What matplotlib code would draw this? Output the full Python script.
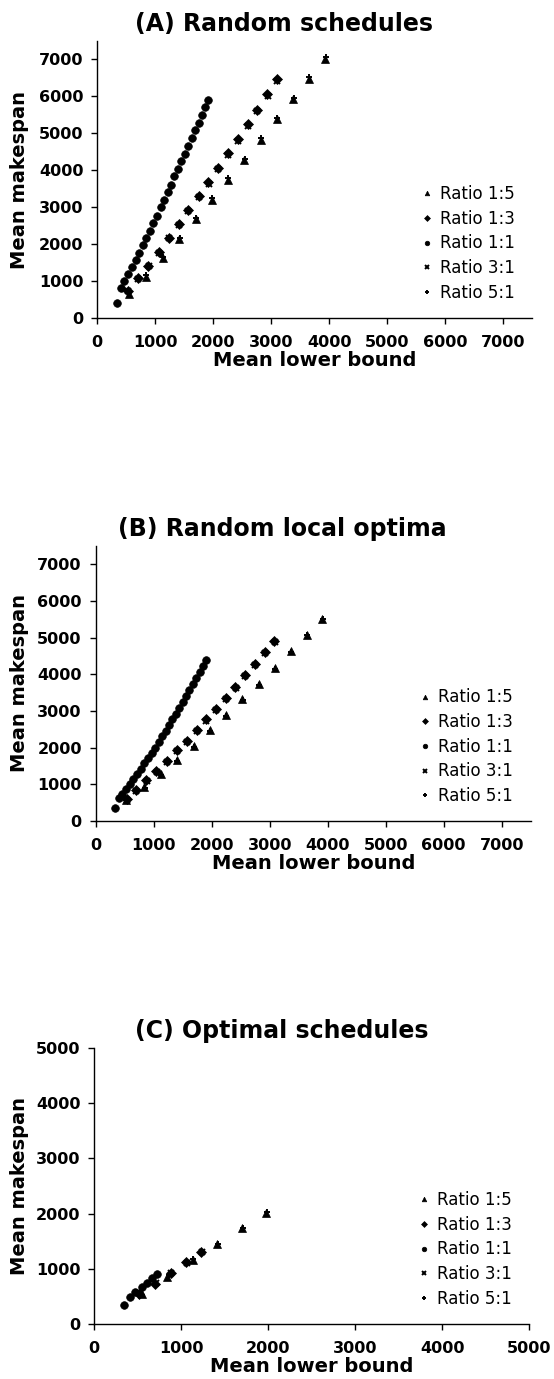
import matplotlib
matplotlib.use("Agg")
import matplotlib.pyplot as plt

# (A) Random schedules
a_lb_15 = [546, 840, 1133, 1415, 1696, 1978, 2260, 2536, 2818, 3100, 3381, 3652, 3933]
a_ms_15 = [658, 1128, 1624, 2138, 2679, 3202, 3743, 4276, 4826, 5385, 5917, 6477, 7018]
a_lb_13 = [523, 696, 880, 1058, 1236, 1403, 1570, 1748, 1915, 2082, 2260, 2427, 2593, 2754, 2933, 3100]
a_ms_13 = [749, 1082, 1425, 1786, 2174, 2544, 2923, 3301, 3671, 4059, 4456, 4844, 5250, 5629, 6071, 6459]
a_lb_11 = [333, 403, 466, 535, 598, 661, 725, 782, 845, 909, 966, 1029, 1093, 1150,
           1213, 1271, 1328, 1386, 1449, 1512, 1570, 1627, 1685, 1748, 1806, 1863, 1915]
a_ms_11 = [424, 821, 1010, 1200, 1389, 1579, 1777, 1975, 2174, 2372, 2580, 2778, 2995, 3193,
           3401, 3608, 3834, 4023, 4240, 4447, 4645, 4871, 5079, 5277, 5493, 5701, 5899]
a_lb_31 = [526, 700, 884, 1060, 1240, 1406, 1572, 1750, 1918, 2085, 2262, 2430, 2596, 2757, 2936, 3103]
a_ms_31 = [730, 1070, 1410, 1770, 2160, 2520, 2900, 3280, 3640, 4030, 4420, 4800, 5200, 5590, 6020, 6400]
a_lb_51 = [550, 845, 1138, 1420, 1700, 1982, 2262, 2540, 2822, 3103, 3384, 3655, 3936]
a_ms_51 = [700, 1160, 1660, 2170, 2710, 3240, 3780, 4310, 4860, 5420, 5950, 6510, 7050]

# (B) Random local optima
b_lb_15 = [523, 839, 1121, 1402, 1690, 1971, 2247, 2529, 2810, 3092, 3362, 3638, 3908]
b_ms_15 = [573, 918, 1282, 1664, 2055, 2473, 2900, 3318, 3745, 4182, 4636, 5082, 5518]
b_lb_13 = [534, 695, 874, 1046, 1224, 1397, 1569, 1741, 1902, 2075, 2241, 2408, 2575, 2741, 2914, 3080]
b_ms_13 = [591, 836, 1118, 1373, 1636, 1927, 2191, 2482, 2773, 3064, 3364, 3664, 3973, 4282, 4600, 4918]
b_lb_11 = [333, 397, 460, 523, 586, 649, 713, 776, 839, 902, 966, 1023, 1086, 1149,
           1207, 1264, 1322, 1385, 1443, 1500, 1557, 1615, 1678, 1736, 1793, 1851, 1908]
b_ms_11 = [364, 618, 745, 873, 1000, 1145, 1282, 1427, 1573, 1709, 1864, 2000, 2155, 2309,
           2455, 2618, 2773, 2927, 3091, 3245, 3409, 3573, 3745, 3909, 4073, 4227, 4400]
b_lb_31 = [537, 698, 877, 1049, 1227, 1400, 1572, 1744, 1905, 2078, 2244, 2411, 2578, 2744, 2917, 3083]
b_ms_31 = [570, 810, 1100, 1350, 1610, 1900, 2160, 2450, 2740, 3030, 3330, 3640, 3950, 4250, 4570, 4880]
b_lb_51 = [526, 842, 1124, 1405, 1693, 1974, 2250, 2532, 2813, 3095, 3365, 3641, 3911]
b_ms_51 = [560, 900, 1260, 1640, 2030, 2450, 2870, 3290, 3720, 4150, 4610, 5060, 5500]

# (C) Optimal schedules
c_lb_15 = [552, 839, 1134, 1414, 1701, 1977]
c_ms_15 = [544, 852, 1160, 1444, 1734, 2012]
c_lb_13 = [513, 701, 885, 1054, 1230]
c_ms_13 = [538, 725, 931, 1124, 1305]
c_lb_11 = [345, 406, 471, 544, 602, 663, 724]
c_ms_11 = [344, 495, 580, 665, 737, 828, 900]
c_lb_31 = [520, 705, 880, 1060, 1235]
c_ms_31 = [560, 745, 915, 1110, 1300]
c_lb_51 = [545, 858, 1140, 1420, 1705, 1980]
c_ms_51 = [530, 894, 1170, 1455, 1745, 2025]

labels = ["Ratio 1:5", "Ratio 1:3", "Ratio 1:1", "Ratio 3:1", "Ratio 5:1"]
markers = ["^", "D", "o", "x", "+"]
sizes = [5.5, 5, 5.5, 5, 5]

W, H = 554, 1379
fig = plt.figure(figsize=(W / 100, H / 100), dpi=100)
fig.patch.set_facecolor("white")


def make_panel(left, top, bottom, unit, lim, ticks, title, series):
    # positions given in pixels of the reference
    width = unit * lim / 1000
    ax = fig.add_axes([left / W, (H - bottom) / H, width / W, (bottom - top) / H])
    for (x, y), m, s, lab in zip(series, markers, sizes, labels):
        ax.plot(x, y, linestyle="none", marker=m, markersize=s, color="black",
                markeredgecolor="black", markeredgewidth=1.4 if m in "x+" else 0.5,
                label=lab)
    ax.set_xlim(0, lim)
    ax.set_ylim(0, lim)
    ax.set_xticks(ticks)
    ax.set_yticks(ticks)
    for side in ["top", "right"]:
        ax.spines[side].set_visible(False)
    for side in ["left", "bottom"]:
        ax.spines[side].set_linewidth(1.0)
    ax.tick_params(direction="out", length=4, width=1, labelsize=11.5)
    ax.tick_params(axis="x", pad=8)
    ax.tick_params(axis="y", pad=6)
    for t in ax.get_xticklabels() + ax.get_yticklabels():
        t.set_fontweight("bold")
    ax.set_title(title, fontsize=17, fontweight="bold", x=0.43, pad=7)
    ax.set_xlabel("Mean lower bound", fontsize=14, fontweight="bold", labelpad=1)
    ax.set_ylabel("Mean makespan", fontsize=14, fontweight="bold")
    ax.yaxis.set_label_coords(-(left - 29) / width, 0.5)
    ax.legend(loc="center left", bbox_to_anchor=(0.73, 0.27), frameon=False,
              fontsize=12, handlelength=0.6, handletextpad=0.5, labelspacing=0.4,
              markerscale=0.6, borderaxespad=0)
    return ax


make_panel(97.3, 40.8, 318.3, 58.0, 7500, range(0, 7001, 1000), "(A) Random schedules",
           [(a_lb_15, a_ms_15), (a_lb_13, a_ms_13), (a_lb_11, a_ms_11),
            (a_lb_31, a_ms_31), (a_lb_51, a_ms_51)])
make_panel(95.7, 546.0, 821.0, 58.0, 7500, range(0, 7001, 1000), "(B) Random local optima",
           [(b_lb_15, b_ms_15), (b_lb_13, b_ms_13), (b_lb_11, b_ms_11),
            (b_lb_31, b_ms_31), (b_lb_51, b_ms_51)])
make_panel(94.3, 1048.0, 1324.0, 87.0, 5000, range(0, 5001, 1000), "(C) Optimal schedules",
           [(c_lb_15, c_ms_15), (c_lb_13, c_ms_13), (c_lb_11, c_ms_11),
            (c_lb_31, c_ms_31), (c_lb_51, c_ms_51)])

fig.savefig("out.png", dpi=100, facecolor="white")
